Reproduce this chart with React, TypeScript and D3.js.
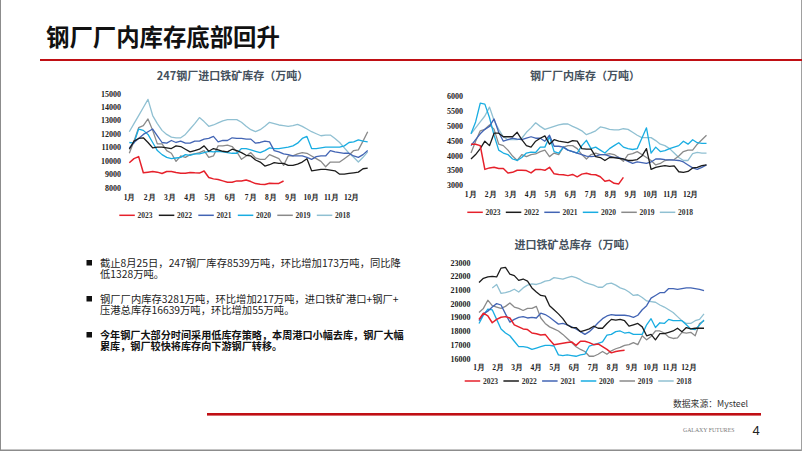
import React from "react";
import * as d3 from "d3";

const years = ["2023", "2022", "2021", "2020", "2019", "2018"];
const yearColors = ["#e6212b", "#1c1c1c", "#4264b4", "#19ade2", "#8a8a8a", "#90c0d2"];
const months = ["1月", "2月", "3月", "4月", "5月", "6月", "7月", "8月", "9月", "10月", "11月", "12月"];

const a2023 = [9900,10200,10350,9150,9200,9250,9200,9100,9250,9250,9180,9120,9120,9180,9150,9130,9280,8800,8700,8650,8550,8450,8450,8550,8550,8620,8500,8350,8300,8280,8370,8350,8360,8540];
const a2022 = [10900,11500,11700,11750,11400,11000,11050,11050,11000,10950,11150,11100,10900,10700,10800,10900,11150,10750,10950,10850,10750,10700,10900,10800,10650,10450,10400,10100,9950,9650,9750,9900,9850,9850,9700,9700,9800,9950,10200,9300,9350,9400,9400,9350,9300,9050,9050,9100,9150,9200,9450,9500];
const a2021 = [11000,11400,11700,12000,12200,12400,11900,11400,11350,11550,11400,11500,11350,11350,11500,11500,11650,11700,11850,11450,11550,11550,11750,11700,11700,11650,11650,11350,11400,11500,11450,10800,10700,10550,10500,10400,10400,10400,10300,10150,10350,10400,10400,10800,10700,10650,10600,10600,10400,10300,10500,10800];
const a2020 = [11400,11350,12400,12300,12000,11400,10800,10500,10300,10200,10250,10300,10500,10450,10550,10550,10650,10750,10700,10750,10700,10650,10600,10600,10950,10950,10850,10750,10650,10800,11000,10950,10950,11000,11050,11150,11350,11700,11850,10950,10950,11000,11050,11050,11050,11050,11150,11400,11450,11600,11500,11450];
const a2019 = [10600,11500,12500,12650,13150,12300,11300,11300,10800,10600,10000,10400,10300,10500,10550,10650,10800,10300,10400,11150,11150,11200,11100,10700,10150,10400,10650,10250,10150,10150,10500,10350,10200,9700,10400,10400,10550,10650,10600,10400,10200,10000,9600,9950,9950,9950,10200,10450,10800,10850,11500,12200];
const a2018 = [12200,12800,13400,14000,14600,13400,12800,12300,12000,11800,11750,11750,12000,12400,12800,13250,12950,12600,12700,12850,13000,13100,13100,13100,12900,12600,12350,12200,12350,12600,12900,12800,12700,12650,12600,12650,12750,12600,12400,12200,12050,11900,11950,11950,11700,11400,11000,10600,10300,9950,10300,10700];

const b2023 = [4400,4400,4350,3550,3600,3620,3580,3580,3430,3450,3520,3520,3510,3430,3550,3550,3520,3620,3400,3380,3370,3340,3380,3300,3390,3420,3380,3370,3300,3150,3180,3080,3060,3280];
const b2022 = [3900,4050,4250,4500,4350,4770,4770,4650,4650,4650,4800,4550,4350,4300,4500,4600,4680,4400,4550,4500,4480,4450,4520,4500,4250,4230,4230,3980,3950,3850,3950,3950,3920,3900,3850,3850,3880,4000,4250,3550,3620,3650,3680,3650,3670,3470,3450,3480,3600,3620,3680,3700];
const b2021 = [4350,4550,4750,4900,5000,5250,4800,4500,4550,4600,4570,4550,4600,4650,4600,4600,4500,4700,4330,4330,4300,4200,4150,4100,4050,4000,3980,4000,4050,4050,4000,3950,3950,3900,3820,3750,3800,3780,3750,3800,3900,3900,3880,3870,3860,3850,3800,3700,3600,3550,3620,3700];
const b2020 = [4750,5150,5780,5750,5300,4700,4200,4100,4050,3900,3850,3950,4100,4130,4120,4300,4300,4650,4150,4100,4300,4200,4150,4100,4350,4530,4250,4300,4200,4100,4250,4350,4450,4300,4250,4220,4250,4600,4950,4100,4300,4150,4180,4250,4300,4350,4500,4400,4550,4450,4430,4430];
const b2019 = [4100,4500,4850,4900,5050,4900,4400,4350,4200,4000,3850,4050,3980,4050,4070,4150,4200,3980,4100,4050,4300,4350,4350,4250,4050,3900,4050,4100,4050,4050,4080,4050,3950,3820,4050,4080,4150,4050,3950,3850,3700,3750,3850,3870,3880,4000,4150,4200,4200,4400,4550,4700];
const b2018 = [4750,4950,5150,5350,5650,5200,4900,4650,4550,4550,4550,4600,4800,4950,5120,5000,4900,4950,5000,5050,5080,5080,5000,4930,4850,4720,4780,4850,4980,4950,4900,4880,4880,4920,4900,4800,4700,4620,4620,4620,4520,4400,4350,4250,4100,3950,3850,3850,4080,4120,4100,4100];

const c2023 = [18900,19350,19150,18650,18900,19050,19100,19000,18500,18350,18200,18150,17900,17850,17750,17800,17400,17050,17100,17150,17200,17250,17000,17300,17300,17200,17050,17100,16900,16700,16450,16550,16600,16640];
const c2022 = [21600,21900,22000,22050,22000,22650,22700,22200,22100,21750,21850,21700,21200,20900,20650,20600,19900,19600,19300,18950,18500,18300,18300,18000,18100,18200,18400,18250,18250,18600,18900,18850,18900,18800,18400,18500,18600,18350,17700,17800,17400,17850,17850,17950,18050,18250,18000,18300,18200,18250,18250,18250];
const c2021 = [18800,19300,19500,19800,20050,19950,19300,18700,18900,19050,19100,19000,19050,19000,19350,19250,19050,18800,18550,18600,18500,18350,18200,18000,17800,18000,18300,18650,18950,19150,19250,19200,19200,19200,19150,19050,19200,19600,19900,20450,20650,20850,20850,21150,21150,21100,21150,21200,21200,21150,21100,21000];
const c2020 = [18600,19200,19650,19600,18900,18200,17900,17700,17300,16900,16900,16850,16700,16800,16900,17000,17000,16950,16300,16250,16300,16250,16200,16300,16350,16950,17050,17150,17250,17750,17800,18000,18050,17900,17950,17800,17800,17800,18500,18950,18300,18650,18600,18900,18800,18800,18800,18500,18200,18150,18500,18850];
const c2019 = [19400,19700,20300,19900,19800,19700,19850,20100,19800,19700,19550,19700,19700,19850,19000,18600,18350,18200,18050,17800,17500,17200,16900,16700,16550,16200,16200,16350,16550,16350,16600,16750,16850,17000,17050,17200,17050,17700,17400,17650,18050,18050,17900,17600,17500,17550,17950,17900,17950,17700,18600,18800];
const c2018 = [null,null,null,21200,21450,20800,20850,20950,21100,20900,21200,21400,21500,21450,21550,21700,21750,21950,21900,21850,21950,22050,21950,21800,21600,21500,21400,21250,21250,21500,21550,21400,21200,21100,20900,20650,20700,20500,20250,20200,20150,19950,19800,19600,19400,19100,18800,18600,18600,18800,18900,19300];

const yTicksA = [8000, 9000, 10000, 11000, 12000, 13000, 14000, 15000];
const yTicksB = [3000, 3500, 4000, 4500, 5000, 5500, 6000];
const yTicksC = [16000, 17000, 18000, 19000, 20000, 21000, 22000, 23000];

const bullets = [
  { y: 263, lines: ["截止8月25日，247钢厂库存8539万吨，环比增加173万吨，同比降", "低1328万吨。"], b: false },
  { y: 299, lines: ["钢厂厂内库存3281万吨，环比增加217万吨，进口铁矿港口+钢厂+", "压港总库存16639万吨，环比增加55万吨。"], b: false },
  { y: 335, lines: ["今年钢厂大部分时间采用低库存策略，本周港口小幅去库，钢厂大幅", "累库，钢厂较快将库存向下游钢厂转移。"], b: true },
];

const CJK = "'Noto Sans CJK SC', sans-serif";
const SERIF = "'Liberation Serif', serif";

type P = {
  title: string; titleX: number; titleY: number; series: (number | null)[][]; yTicks: number[];
  x0: number; x1: number; yBottom: number; yTop: number; yAxisX: number; monthX0: number; monthStep: number; monthY: number;
  legX: number; legStep: number; legY: number;
};

function Chart(p: P) {
  const x = d3.scaleLinear().domain([0, 51]).range([p.x0, p.x1]);
  const y = d3.scaleLinear().domain([p.yTicks[0], p.yTicks[p.yTicks.length - 1]]).range([p.yBottom, p.yTop]);
  const mx = d3.scalePoint<string>().domain(months).range([p.monthX0, p.monthX0 + 11 * p.monthStep]);
  const line = d3.line<number | null>().defined((d) => d !== null).x((_, i) => x(i)).y((d) => y(d as number)).curve(d3.curveLinear);
  const order = [5, 4, 3, 2, 1, 0];
  return (
    <g>
      <text x={p.titleX} y={p.titleY} textAnchor="middle" dominantBaseline="central" fontFamily={CJK} fontWeight={700} fontSize={11} fill="#44505c">{p.title}</text>
      {p.yTicks.map((t) => (
        <text key={t} x={p.yAxisX} y={y(t)} textAnchor="end" dominantBaseline="central" fontFamily={SERIF} fontWeight={700} fontSize={8} fill="#222">{t}</text>
      ))}
      {months.map((m) => (
        <text key={m} x={mx(m)} y={p.monthY} textAnchor="middle" dominantBaseline="central" fontFamily={SERIF} fontWeight={700} fontSize={7.5} fill="#222">{m}</text>
      ))}
      {order.map((i) => (
        <path key={i} d={line(p.series[i]) || ""} fill="none" stroke={yearColors[i]} strokeWidth={i === 0 ? 1.5 : 1.3} strokeLinejoin="round" />
      ))}
      {years.map((yr, i) => (
        <g key={yr}>
          <line x1={p.legX + i * p.legStep} x2={p.legX + i * p.legStep + 15.5} y1={p.legY} y2={p.legY} stroke={yearColors[i]} strokeWidth={1.5} />
          <text x={p.legX + i * p.legStep + 18.3} y={p.legY} dominantBaseline="central" fontFamily={SERIF} fontWeight={700} fontSize={7.5} fill="#333">{yr}</text>
        </g>
      ))}
    </g>
  );
}

export default function App() {
  return (
    <svg width={802} height={451} viewBox="0 0 802 451" style={{ position: "absolute", left: 0, top: 0, display: "block", background: "#fff" }}>
      <rect x={0} y={0} width={1} height={451} fill="#8c8c8c" />
      <rect x={0} y={449.5} width={802} height={1.5} fill="#8c8c8c" />
      <rect x={801} y={0} width={1} height={451} fill="#a0a0a0" />
      <text x={46} y={36} dominantBaseline="central" fontFamily={CJK} fontWeight={700} fontSize={23.4} fill="#111">钢厂厂内库存底部回升</text>
      <rect x={40} y={59} width={762} height={2} fill="#c00f14" />
      <Chart title="247钢厂进口铁矿库存（万吨）" titleX={232.5} titleY={75} series={[a2023, a2022, a2021, a2020, a2019, a2018]} yTicks={yTicksA}
        x0={129.3} x1={367.7} yBottom={188.3} yTop={94} yAxisX={121} monthX0={129.5} monthStep={20.2} monthY={197.7} legX={119.3} legStep={39.5} legY={215.3} />
      <Chart title="钢厂厂内库存（万吨）" titleX={585} titleY={75} series={[b2023, b2022, b2021, b2020, b2019, b2018]} yTicks={yTicksB}
        x0={471} x1={706.5} yBottom={185.7} yTop={96.7} yAxisX={463} monthX0={470.7} monthStep={20} monthY={194} legX={467.3} legStep={38.5} legY={212.3} />
      <Chart title="进口铁矿总库存（万吨）" titleX={575} titleY={244} series={[c2023, c2022, c2021, c2020, c2019, c2018]} yTicks={yTicksC}
        x0={479} x1={704} yBottom={359} yTop={263.3} yAxisX={470.5} monthX0={479} monthStep={19.1} monthY={367.7} legX={464.7} legStep={38.7} legY={381} />
      {bullets.map((b) => (
        <g key={b.y}>
          <rect x={86.5} y={b.y - 3} width={5.5} height={5.5} fill="#111" />
          <text fontFamily={CJK} fontWeight={b.b ? 700 : 400} fontSize={b.b ? 10.15 : 10.3} fill={b.b ? "#111" : "#222"}>
            {b.lines.map((t, i) => (
              <tspan key={i} x={100} y={b.y + 3.6 + i * 11.8}>{t}</tspan>
            ))}
          </text>
        </g>
      ))}
      <text x={673} y={403} dominantBaseline="central" fontFamily={CJK} fontSize={8.8} fill="#333">数据来源：Mysteel</text>
      <rect x={207} y={413} width={554} height={2.6} fill="#c00f14" />
      <text x={683} y={430} dominantBaseline="central" fontFamily={SERIF} fontSize={5.8} fill="#777">GALAXY FUTURES</text>
      <text x={756} y={430} textAnchor="middle" dominantBaseline="central" fontFamily="'Liberation Sans', sans-serif" fontSize={13} fill="#222">4</text>
    </svg>
  );
}
